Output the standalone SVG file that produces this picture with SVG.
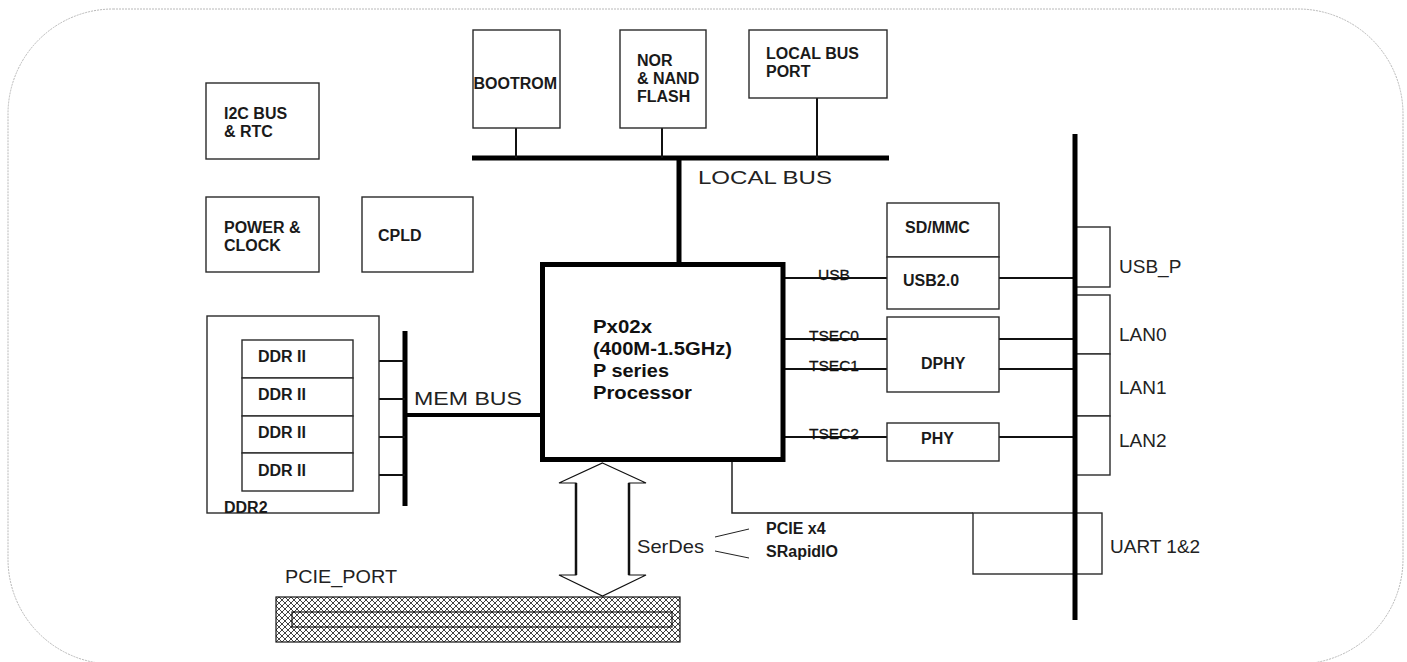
<svg xmlns="http://www.w3.org/2000/svg" width="1407" height="662" viewBox="0 0 1407 662">
<style>
.bg{fill:#fff}
.frame{fill:none;stroke:#b8b8b8;stroke-width:1;stroke-dasharray:2 1}
.box{fill:#fff;stroke:#2a2a2a;stroke-width:1.4}
.cpu{fill:#fff;stroke:#000;stroke-width:5}
.bus{stroke:#000;stroke-width:5;fill:none;stroke-linecap:butt}
.w{stroke:#111;stroke-width:2;fill:none}
.t{stroke:#222;stroke-width:1.5;fill:none}
.b{font-family:"Liberation Sans",Arial,sans-serif;font-weight:bold;font-size:16px;fill:#1a1a1a}
.c{font-family:"Liberation Sans",Arial,sans-serif;font-weight:bold;font-size:18px;fill:#111}
.r{font-family:"Liberation Sans",Arial,sans-serif;font-size:19px;fill:#222}
.s{font-family:"Liberation Sans",Arial,sans-serif;font-size:15.5px;fill:#111;stroke:#111;stroke-width:0.3}
</style>
<defs>
<pattern id="hatch" patternUnits="userSpaceOnUse" width="6" height="6">
<rect width="6" height="6" fill="#fff"/>
<path d="M0,0 L6,6 M6,0 L0,6" stroke="#111" stroke-width="0.8"/>
</pattern>
</defs>
<rect class="bg" width="1407" height="662"/>
<rect class="frame" x="8" y="9" width="1395" height="655" rx="105" ry="105"/>

<g id="connectors">
<line class="bus" x1="472" y1="158" x2="889" y2="158"/>
<line class="bus" x1="679" y1="158" x2="679" y2="263"/>
<line class="w" x1="516" y1="128" x2="516" y2="158"/>
<line class="w" x1="662" y1="128" x2="662" y2="158"/>
<line class="w" x1="817" y1="98" x2="817" y2="158"/>
<line class="bus" x1="405" y1="331" x2="405" y2="506"/>
<line class="bus" x1="405" y1="415" x2="543" y2="415" style="stroke-width:4"/>
<line class="w" x1="353" y1="361" x2="405" y2="361"/>
<line class="w" x1="353" y1="399" x2="405" y2="399"/>
<line class="w" x1="353" y1="437" x2="405" y2="437"/>
<line class="w" x1="353" y1="475" x2="405" y2="475"/>
<line class="w" x1="783" y1="278" x2="887" y2="278"/>
<line class="w" x1="783" y1="339" x2="887" y2="339"/>
<line class="w" x1="783" y1="369" x2="887" y2="369"/>
<line class="w" x1="783" y1="437" x2="887" y2="437"/>
<line class="w" x1="999" y1="278" x2="1075" y2="278"/>
<line class="w" x1="999" y1="339" x2="1075" y2="339"/>
<line class="w" x1="999" y1="369" x2="1075" y2="369"/>
<line class="w" x1="999" y1="437" x2="1075" y2="437"/>
<polyline class="t" points="732,460 732,513 973,513"/>
<line class="t" x1="715" y1="537" x2="749" y2="529" style="stroke-width:1"/>
<line class="t" x1="715" y1="551" x2="749" y2="558" style="stroke-width:1"/>
<polygon points="602.5,463 646,483 629,483 629,575 646,575 602.5,596 559,575 576,575 576,483 559,483" fill="#fff" stroke="#111" stroke-width="1.2"/>
<line class="w" x1="576" y1="483" x2="576" y2="575" style="stroke-width:2.5"/>
<line class="w" x1="629" y1="483" x2="629" y2="575" style="stroke-width:2.5"/>
</g>

<g id="i2c">
<rect class="box" x="206" y="83" width="113" height="76"/>
<text class="b" x="224" y="119">I2C BUS</text>
<text class="b" x="224" y="137">&amp; RTC</text>
</g>
<g id="power">
<rect class="box" x="206" y="197" width="113" height="75"/>
<text class="b" x="224" y="233">POWER &amp;</text>
<text class="b" x="224" y="251">CLOCK</text>
</g>
<g id="cpld">
<rect class="box" x="362" y="197" width="111" height="75"/>
<text class="b" x="378" y="241">CPLD</text>
</g>
<g id="bootrom">
<rect class="box" x="473" y="30" width="87" height="98"/>
<text class="b" x="473.5" y="89">BOOTROM</text>
</g>
<g id="flash">
<rect class="box" x="620" y="30" width="86" height="98"/>
<text class="b" x="637" y="66">NOR</text>
<text class="b" x="637" y="84">&amp; NAND</text>
<text class="b" x="637" y="102">FLASH</text>
</g>
<g id="lbport">
<rect class="box" x="749" y="30" width="138" height="68"/>
<text class="b" x="766" y="59">LOCAL BUS</text>
<text class="b" x="766" y="77">PORT</text>
</g>
<g id="localbus-label">
<text class="r" x="698" y="184" textLength="134" lengthAdjust="spacingAndGlyphs">LOCAL BUS</text>
</g>

<g id="ddr2">
<rect class="box" x="207" y="316" width="172" height="197"/>
<rect class="box" x="242" y="340" width="111" height="38"/>
<rect class="box" x="242" y="378" width="111" height="38"/>
<rect class="box" x="242" y="416" width="111" height="37"/>
<rect class="box" x="242" y="453" width="111" height="38"/>
<text class="b" x="258" y="362">DDR II</text>
<text class="b" x="258" y="400">DDR II</text>
<text class="b" x="258" y="438">DDR II</text>
<text class="b" x="258" y="476">DDR II</text>
<text class="b" x="224" y="513">DDR2</text>
</g>
<g id="membus-label">
<text class="r" x="414" y="405" textLength="108" lengthAdjust="spacingAndGlyphs">MEM BUS</text>
</g>

<g id="cpu">
<rect class="cpu" x="542.5" y="264.5" width="240.5" height="195"/>
<text class="c" x="593" y="333" textLength="59" lengthAdjust="spacingAndGlyphs">Px02x</text>
<text class="c" x="593" y="355" textLength="139" lengthAdjust="spacingAndGlyphs">(400M-1.5GHz)</text>
<text class="c" x="593" y="377" textLength="76" lengthAdjust="spacingAndGlyphs">P series</text>
<text class="c" x="593" y="399" textLength="99" lengthAdjust="spacingAndGlyphs">Processor</text>
</g>

<g id="if-labels">
<text class="s" x="818" y="280" textLength="32" lengthAdjust="spacingAndGlyphs">USB</text>
<text class="s" x="809" y="341" textLength="50" lengthAdjust="spacingAndGlyphs">TSEC0</text>
<text class="s" x="809" y="371" textLength="50" lengthAdjust="spacingAndGlyphs">TSEC1</text>
<text class="s" x="809" y="439" textLength="50" lengthAdjust="spacingAndGlyphs">TSEC2</text>
</g>

<g id="sdmmc">
<rect class="box" x="887" y="203" width="112" height="54"/>
<text class="b" x="905" y="233">SD/MMC</text>
</g>
<g id="usb20">
<rect class="box" x="887" y="257" width="112" height="52"/>
<text class="b" x="903" y="286">USB2.0</text>
</g>
<g id="dphy">
<rect class="box" x="887" y="317" width="112" height="75"/>
<text class="b" x="921" y="369">DPHY</text>
</g>
<g id="phy">
<rect class="box" x="887" y="423" width="112" height="38"/>
<text class="b" x="921" y="444">PHY</text>
</g>

<g id="ports">
<rect class="box" x="1075" y="227" width="35" height="60"/>
<rect class="box" x="1075" y="295" width="35" height="59"/>
<rect class="box" x="1075" y="354" width="35" height="62"/>
<rect class="box" x="1075" y="416" width="35" height="59"/>
<text class="r" x="1119" y="273">USB_P</text>
<text class="r" x="1119" y="341">LAN0</text>
<text class="r" x="1119" y="394">LAN1</text>
<text class="r" x="1119" y="447">LAN2</text>
</g>
<g id="uart">
<rect class="box" x="973" y="513" width="129" height="61"/>
<text class="r" x="1110" y="553">UART 1&amp;2</text>
</g>
<g id="rightbus">
<line class="bus" x1="1075" y1="134" x2="1075" y2="620"/>
</g>

<g id="serdes">
<text class="r" x="637" y="553" textLength="67" lengthAdjust="spacingAndGlyphs">SerDes</text>
<text class="b" x="766" y="534">PCIE x4</text>
<text class="b" x="766" y="557">SRapidIO</text>
</g>

<g id="pcie">
<text class="r" x="285" y="583" textLength="112" lengthAdjust="spacingAndGlyphs">PCIE_PORT</text>
<rect x="276" y="597" width="404" height="45" fill="url(#hatch)" stroke="#111" stroke-width="1.2"/>
<rect x="292" y="612" width="380" height="15" fill="none" stroke="#111" stroke-width="1.2"/>
</g>
</svg>
